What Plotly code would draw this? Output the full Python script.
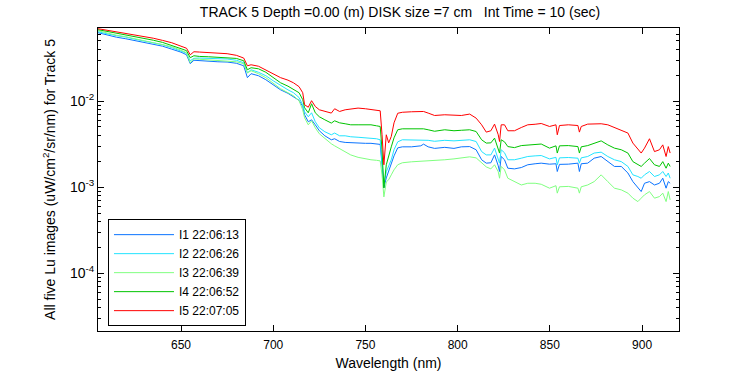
import plotly.graph_objects as go

wavelength = [605, 608, 611, 615, 620, 625, 630, 635, 640, 645,
              650, 653, 655, 657, 660, 665, 670, 675, 680, 684,
              686, 688, 692, 696, 700, 704, 708, 711, 714, 716,
              717, 719, 720.8, 722.8, 725, 728, 731.5, 733.3, 736, 739,
              742, 746, 750, 753, 756, 758, 759, 760, 761.3, 762.6,
              764, 765.5, 767.5, 770, 775, 780, 781.5, 784, 787.5, 793,
              798, 802, 806.5, 810, 813, 815.5, 818, 820, 822, 822.7,
              823.6, 825.4, 827.2, 830.8, 834.5, 838, 842, 845.3, 849.8, 853.3,
              854, 855.2, 860, 865.2, 866, 867, 870.5, 874, 877.8, 881.4,
              885, 888.7, 892.3, 895, 897.7, 899.5, 901.3, 904, 906.7, 909.4,
              911.2, 913, 914.2, 915.2]

# I5 22:07:05 (red)
lu_i5 = [0.0693, 0.0675, 0.0657, 0.0639, 0.0618, 0.0582, 0.0559, 0.0537, 0.0507, 0.0476,
         0.0434, 0.0411, 0.0345, 0.0374, 0.0371, 0.0365, 0.0360, 0.0355, 0.0340, 0.0316,
         0.0257, 0.0264, 0.0254, 0.0231, 0.0208, 0.0187, 0.0175, 0.0163, 0.0147, 0.0125,
         0.00906, 0.00848, 0.0101, 0.00866, 0.00792, 0.00761, 0.00725, 0.00814, 0.00757, 0.00792,
         0.00814, 0.00829, 0.00814, 0.00792, 0.00782, 0.00771, 0.00406, 0.00182, 0.00406, 0.00327,
         0.00388, 0.00559, 0.00722, 0.00741, 0.00751, 0.00751, 0.00757, 0.00725, 0.00680, 0.00693,
         0.00680, 0.00680, 0.00706, 0.00634, 0.00530, 0.00436, 0.00452, 0.00540, 0.00406, 0.00339,
         0.00530, 0.00530, 0.00452, 0.00452, 0.00493, 0.00530, 0.00538, 0.00549, 0.00507, 0.00530,
         0.00406, 0.00520, 0.00530, 0.00520, 0.00436, 0.00507, 0.00540, 0.00540, 0.00545, 0.00530,
         0.00493, 0.00464, 0.00425, 0.00325, 0.00272, 0.00249, 0.00284, 0.00365, 0.00259, 0.00272,
         0.00310, 0.00227, 0.00296, 0.00249]

# I4 22:06:52 (green)
lu_i4 = [0.0675, 0.0657, 0.0631, 0.0606, 0.0590, 0.0559, 0.0530, 0.0509, 0.0480, 0.0446,
         0.0406, 0.0385, 0.0319, 0.0336, 0.0330, 0.0327, 0.0323, 0.0319, 0.0313, 0.0294,
         0.0231, 0.0244, 0.0237, 0.0216, 0.0187, 0.0163, 0.0149, 0.0137, 0.0125, 0.0104,
         0.00836, 0.00731, 0.00930, 0.00731, 0.00657, 0.00606, 0.00555, 0.00590, 0.00559, 0.00545,
         0.00530, 0.00530, 0.00530, 0.00530, 0.00516, 0.00507, 0.00272, 0.000981, 0.00182, 0.00237,
         0.00294, 0.00374, 0.00464, 0.00476, 0.00476, 0.00476, 0.00476, 0.00464, 0.00446, 0.00464,
         0.00452, 0.00458, 0.00464, 0.00443, 0.00355, 0.00325, 0.00327, 0.00371, 0.00286, 0.00249,
         0.00355, 0.00336, 0.00296, 0.00288, 0.00304, 0.00310, 0.00315, 0.00317, 0.00284, 0.00302,
         0.00249, 0.00302, 0.00304, 0.00296, 0.00249, 0.00294, 0.00304, 0.00325, 0.00345, 0.00310,
         0.00284, 0.00272, 0.00249, 0.00198, 0.00182, 0.00174, 0.00190, 0.00215, 0.00182, 0.00174,
         0.00198, 0.00166, 0.00190, 0.00174]

# I3 22:06:39 (light green)
lu_i3 = [0.0657, 0.0631, 0.0606, 0.0582, 0.0559, 0.0530, 0.0503, 0.0483, 0.0458, 0.0428,
         0.0390, 0.0365, 0.0279, 0.0310, 0.0306, 0.0302, 0.0298, 0.0294, 0.0286, 0.0272,
         0.0213, 0.0225, 0.0208, 0.0187, 0.0163, 0.0139, 0.0125, 0.0115, 0.0101, 0.00792,
         0.00639, 0.00530, 0.00590, 0.00489, 0.00417, 0.00365, 0.00319, 0.00302, 0.00279, 0.00254,
         0.00237, 0.00222, 0.00213, 0.00208, 0.00205, 0.00202, 0.00139, 0.000771, 0.00115, 0.00122,
         0.00139, 0.00159, 0.00182, 0.00192, 0.00197, 0.00200, 0.00202, 0.00202, 0.00202, 0.00208,
         0.00213, 0.00219, 0.00225, 0.00219, 0.00192, 0.00172, 0.00163, 0.00182, 0.00151, 0.00127,
         0.00174, 0.00159, 0.00127, 0.00116, 0.00106, 0.00111, 0.00111, 0.00108, 0.000973, 0.00104,
         0.000852, 0.00101, 0.00102, 0.000973, 0.000852, 0.00101, 0.00106, 0.00116, 0.00139, 0.00116,
         0.000973, 0.000930, 0.000852, 0.000745, 0.000680, 0.000745, 0.000814, 0.000889, 0.000745, 0.000777,
         0.000852, 0.000680, 0.000889, 0.000712]

# I2 22:06:26 (cyan)
lu_i2 = [0.0639, 0.0623, 0.0598, 0.0575, 0.0555, 0.0523, 0.0496, 0.0476, 0.0452, 0.0417,
         0.0385, 0.0360, 0.0294, 0.0314, 0.0316, 0.0313, 0.0310, 0.0308, 0.0298, 0.0279,
         0.0213, 0.0231, 0.0216, 0.0197, 0.0172, 0.0151, 0.0135, 0.0125, 0.0110, 0.00906,
         0.00751, 0.00657, 0.00731, 0.00575, 0.00489, 0.00440, 0.00406, 0.00425, 0.00395, 0.00395,
         0.00385, 0.00380, 0.00374, 0.00371, 0.00365, 0.00355, 0.00208, 0.00106, 0.00151, 0.00177,
         0.00208, 0.00272, 0.00336, 0.00355, 0.00355, 0.00355, 0.00355, 0.00350, 0.00341, 0.00350,
         0.00345, 0.00350, 0.00355, 0.00339, 0.00259, 0.00237, 0.00237, 0.00284, 0.00219, 0.00190,
         0.00272, 0.00251, 0.00208, 0.00208, 0.00217, 0.00227, 0.00231, 0.00233, 0.00213, 0.00222,
         0.00182, 0.00219, 0.00221, 0.00217, 0.00190, 0.00219, 0.00227, 0.00249, 0.00255, 0.00227,
         0.00208, 0.00198, 0.00174, 0.00139, 0.00133, 0.00127, 0.00139, 0.00152, 0.00133, 0.00139,
         0.00152, 0.00133, 0.00146, 0.00127]

# I1 22:06:13 (blue)
lu_i1 = [0.0623, 0.0598, 0.0575, 0.0552, 0.0530, 0.0503, 0.0476, 0.0458, 0.0434, 0.0401,
         0.0370, 0.0345, 0.0272, 0.0298, 0.0294, 0.0290, 0.0286, 0.0284, 0.0275, 0.0257,
         0.0187, 0.0208, 0.0197, 0.0177, 0.0155, 0.0135, 0.0123, 0.0113, 0.0102, 0.00866,
         0.00693, 0.00575, 0.00606, 0.00530, 0.00452, 0.00395, 0.00355, 0.00365, 0.00339, 0.00331,
         0.00327, 0.00325, 0.00323, 0.00323, 0.00319, 0.00314, 0.00182, 0.000981, 0.00128, 0.00155,
         0.00192, 0.00231, 0.00286, 0.00294, 0.00294, 0.00302, 0.00316, 0.00294, 0.00282, 0.00290,
         0.00282, 0.00294, 0.00296, 0.00272, 0.00208, 0.00190, 0.00192, 0.00237, 0.00177, 0.00152,
         0.00227, 0.00208, 0.00166, 0.00163, 0.00169, 0.00182, 0.00187, 0.00190, 0.00185, 0.00187,
         0.00152, 0.00184, 0.00185, 0.00190, 0.00152, 0.00187, 0.00190, 0.00217, 0.00227, 0.00198,
         0.00174, 0.00174, 0.00146, 0.00116, 0.000973, 0.000889, 0.00111, 0.00116, 0.00106, 0.00111,
         0.00127, 0.000973, 0.00116, 0.00111]

series_names = ["I1 22:06:13", "I2 22:06:26", "I3 22:06:39", "I4 22:06:52", "I5 22:07:05"]
series_values = [lu_i1, lu_i2, lu_i3, lu_i4, lu_i5]
series_colors = ["#0A74FF", "#22E4FF", "#80FF80", "#00C400", "#FF0000"]

x_ticks = [650, 700, 750, 800, 850, 900]
y_ticks = [1e-4, 1e-3, 1e-2]
y_tick_labels = ["10<sup>-4</sup>", "10<sup>-3</sup>", "10<sup>-2</sup>"]
y_minor = [k * 10.0 ** e for e in (-5, -4, -3, -2, -1) for k in range(2, 10)]

FONT = "Arial, Liberation Sans, Helvetica, sans-serif"

fig = go.Figure()
for name, vals, col in zip(series_names, series_values, series_colors):
    assert len(vals) == len(wavelength)
    fig.add_trace(go.Scatter(x=wavelength, y=vals, mode="lines", name=name,
                             line=dict(color=col, width=1)))

fig.update_layout(
    width=750, height=375,
    margin=dict(l=98, r=71, t=28, b=44, autoexpand=False),
    paper_bgcolor="white", plot_bgcolor="white",
    font=dict(family=FONT, size=12, color="black"),
    title=dict(text="TRACK 5 Depth =0.00 (m) DISK size =7 cm\u00a0\u00a0 Int Time = 10 (sec)",
               x=400 / 750, xref="container", xanchor="center",
               y=1 - 12 / 375, yref="container", yanchor="middle",
               font=dict(family=FONT, size=14, color="black")),
    showlegend=True,
    legend=dict(x=0.0172, y=0.016, xanchor="left", yanchor="bottom",
                bgcolor="white", bordercolor="black", borderwidth=1,
                font=dict(family=FONT, size=12, color="black"),
                itemwidth=60, tracegroupgap=0),
)

fig.update_xaxes(range=[605, 920], tickvals=x_ticks, ticks="inside", ticklen=6,
                 tickcolor="black", showline=True, linecolor="black", linewidth=1,
                 mirror="ticks", showgrid=False, zeroline=False, automargin=False,
                 tickfont=dict(size=12), ticklabelstandoff=3,
                 title=dict(text="Wavelength (nm)", standoff=6, font=dict(size=14)))
fig.update_yaxes(type="log", range=[-4.6709, -1.1512], tickvals=y_ticks, ticktext=y_tick_labels,
                 ticks="inside", ticklen=6, tickcolor="black", showline=True,
                 linecolor="black", linewidth=1, mirror="ticks", showgrid=False, zeroline=False,
                 automargin=False, tickfont=dict(size=14),
                 minor=dict(tickvals=y_minor, ticks="inside", ticklen=3, tickcolor="black", showgrid=False),
                 title=dict(text="All five Lu images (uW/cm<sup>2</sup>/sr/nm) for Track 5",
                            standoff=11, font=dict(size=14)))

fig.write_html("out.html", config={"displayModeBar": False},
               post_script="document.body.style.margin='0';")
